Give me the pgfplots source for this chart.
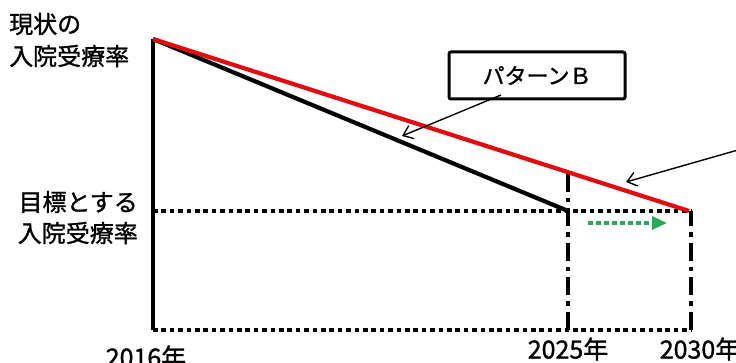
\documentclass[border=0pt]{standalone}
\usepackage{pgfplots}
\pgfplotsset{compat=1.18}
\usepackage{fontspec}
\setmainfont{Noto Sans CJK JP}[FakeBold=1.2]
\usetikzlibrary{arrows.meta}
\definecolor{myred}{RGB}{228,10,14}
\definecolor{mygreen}{RGB}{38,170,90}
\begin{document}
\begin{tikzpicture}[x=1pt,y=1pt]
\useasboundingbox (0,0) rectangle (736,362);
\clip (0,0) rectangle (736,362);
\begin{axis}[
  at={(153pt,32pt)}, anchor=south west,
  scale only axis, width=538pt, height=291pt,
  xmin=0, xmax=538, ymin=0, ymax=291,
  hide axis, clip=false,
]
% bottom dotted line
\addplot[black, line width=4.6pt, dash pattern=on 4.6pt off 3.8pt] coordinates {(0,0) (538,0)};
% target dotted line
\addplot[black, line width=4.6pt, dash pattern=on 4.6pt off 3.8pt] coordinates {(0,119) (538,119)};
% 2025 dash-dot vertical
\addplot[black, line width=4.6pt, dash pattern=on 18pt off 6pt on 4.6pt off 6pt] coordinates {(415,0) (415,158)};
% 2030 dash-dot vertical
\addplot[black, line width=4.6pt, dash pattern=on 18pt off 6pt on 4.6pt off 6pt] coordinates {(538,0) (538,119)};
% left solid vertical
\addplot[black, line width=4.8pt] coordinates {(0,0) (0,291)};
% pattern B (black)
\addplot[black, line width=4.2pt] coordinates {(0,291) (415,119)};
% red line
\addplot[myred, line width=4.2pt] coordinates {(0,291) (536,119)};
% green dashed arrow
\addplot[mygreen, line width=3.2pt, dash pattern=on 5pt off 3pt, -{Triangle[length=15pt,width=13pt,sep=0pt]}] coordinates {(435,107) (514,107)};
\end{axis}
% annotations
\draw[black, line width=3pt, rounded corners=2pt] (449,263) rectangle (625,310);
\node[font=\fontsize{22}{24}\selectfont] at (537,286.5) {パターンＢ};
\draw[black, line width=1.4pt, -{Straight Barb[length=9pt,width=14pt,line width=1.4pt]}] (501,267) -- (402,226);
\draw[black, line width=1.4pt, -{Straight Barb[length=9pt,width=14pt,line width=1.4pt]}] (745,214) -- (626,180);
% labels
\node[anchor=west, inner sep=0pt, font=\fontsize{24}{26}\selectfont] at (9,338) {現状の};
\node[anchor=west, inner sep=0pt, font=\fontsize{24}{26}\selectfont] at (9,306) {入院受療率};
\node[anchor=east, inner sep=0pt, font=\fontsize{24}{26}\selectfont] at (138,160) {目標とする};
\node[anchor=east, inner sep=0pt, font=\fontsize{24}{26}\selectfont] at (138,129) {入院受療率};
\node[inner sep=0pt, font=\fontsize{25}{27}\selectfont] at (146,5) {2016年};
\node[inner sep=0pt, font=\fontsize{25}{27}\selectfont] at (568,13) {2025年};
\node[inner sep=0pt, font=\fontsize{25}{27}\selectfont] at (700,13) {2030年};
\end{tikzpicture}
\end{document}
